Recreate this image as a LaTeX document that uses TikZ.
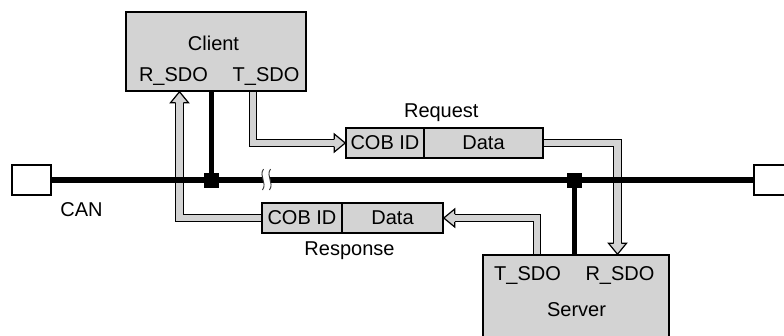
\documentclass[tikz,border=0pt]{standalone}
\usepackage{fontspec}
\setmainfont{Liberation Sans}
\usetikzlibrary{calc}
\definecolor{boxgray}{RGB}{211,211,211}
\pgfdeclarelayer{bg}
\pgfsetlayers{bg,main}
\tikzset{
  box/.style={draw, line width=1.5pt, fill=boxgray, inner sep=0pt},
  term/.style={draw, line width=1.5pt, fill=white, inner sep=0pt, minimum height=30pt},
  cell/.style={draw, line width=1.5pt, fill=boxgray, inner sep=0pt, minimum height=30pt, font=\fontsize{20}{23}\selectfont},
  lbl/.style={inner sep=0pt, anchor=base, font=\fontsize{20}{23}\selectfont},
  junction/.style={fill=black, inner sep=0pt, minimum size=15pt},
  bus/.style={line width=6.5pt},
  tap/.style={line width=5.5pt},
  hollow/.style={line width=1.2pt, double=boxgray, double distance=6.5pt, line join=miter},
  headstyle/.style={fill=boxgray, draw, line width=1.2pt, line join=miter},
  breakline/.style={line width=0.9pt, draw=black!80},
}
\newcommand\hollowhead[2]{%
  \begin{scope}[shift={(#1)}, rotate=#2]
    \filldraw[headstyle] (-11,-3.85) -- (-11,-9) -- (0,0) -- (-11,9) -- (-11,3.85);
  \end{scope}}
\begin{document}
\begin{tikzpicture}[x=1pt,y=-1pt]
\useasboundingbox (0,0) rectangle (784,335);
\clip (0,0) rectangle (784,335);

% helper x positions
\coordinate (tA) at (253,0);
\coordinate (tB) at (617.5,0);
\coordinate (tC) at (537,0);
\coordinate (tD) at (179.5,0);

% boxes
\node[box, minimum width=180pt, minimum height=79pt] (client) at (216,51.5) {};
\node[box, minimum width=186pt, minimum height=90pt] (server) at (576,300) {};
\node[term, minimum width=39pt] (lterm) at (31.5,180) {};
\node[term, minimum width=41pt] (rterm) at (774.5,180) {};

% frames
\node[cell, minimum width=78pt] (reqcob) at (385,143) {COB ID};
\node[cell, minimum width=119pt] (reqdata) at (483.5,143) {Data};
\node[cell, minimum width=80pt] (respcob) at (302,218) {COB ID};
\node[cell, minimum width=101pt] (respdata) at (392.5,218) {Data};

% hollow shafts (background)
\begin{pgfonlayer}{bg}
  \draw[hollow] (tA |- client.south) |- ([xshift=-10pt]reqcob.west);
  \draw[hollow] (reqdata.east) -| ([yshift=10pt]tB |- server.north);
  \draw[hollow] (tC |- server.north) |- ([xshift=10pt]respdata.east);
  \draw[hollow] (respcob.west) -| ([yshift=-10pt]tD |- client.south);
\end{pgfonlayer}

% hollow heads
\hollowhead{reqcob.west}{0}
\hollowhead{tB |- server.north}{-90}
\hollowhead{respdata.east}{180}
\hollowhead{tD |- client.south}{90}

% bus
\draw[bus] (lterm.east) -- (rterm.west);

% break mark
\fill[white] (263.5,169) .. controls (258.5,176) and (267.5,183) .. (262.5,190)
  -- (269.5,190) .. controls (274.5,183) and (265.5,176) .. (270.5,169) -- cycle;
\draw[breakline] (263.5,169) .. controls (258.5,176) and (267.5,183) .. (262.5,190);
\draw[breakline] (270.5,169) .. controls (265.5,176) and (274.5,183) .. (269.5,190);

% junctions and taps
\node[junction] (j1) at (211.5,180) {};
\node[junction] (j2) at (574.5,180) {};
\draw[tap] (j1 |- client.south) -- (j1.center);
\draw[tap] (j2 |- server.north) -- (j2.center);

% labels
\node[lbl] (clientlbl) at (213.5,50) {Client};
\node[lbl] (crsdo) at (173.5,81) {R\_SDO};
\node[lbl] (ctsdo) at (266,81) {T\_SDO};
\node[lbl] (stsdo) at (527.5,280) {T\_SDO};
\node[lbl] (srsdo) at (620,280) {R\_SDO};
\node[lbl] (serverlbl) at (576.5,316.5) {Server};
\node[lbl] (reqlbl) at (441.3,117.5) {Request};
\node[lbl] (resplbl) at (349.5,255.5) {Response};
\node[lbl] (canlbl) at (81.5,216) {CAN};
\end{tikzpicture}
\end{document}
